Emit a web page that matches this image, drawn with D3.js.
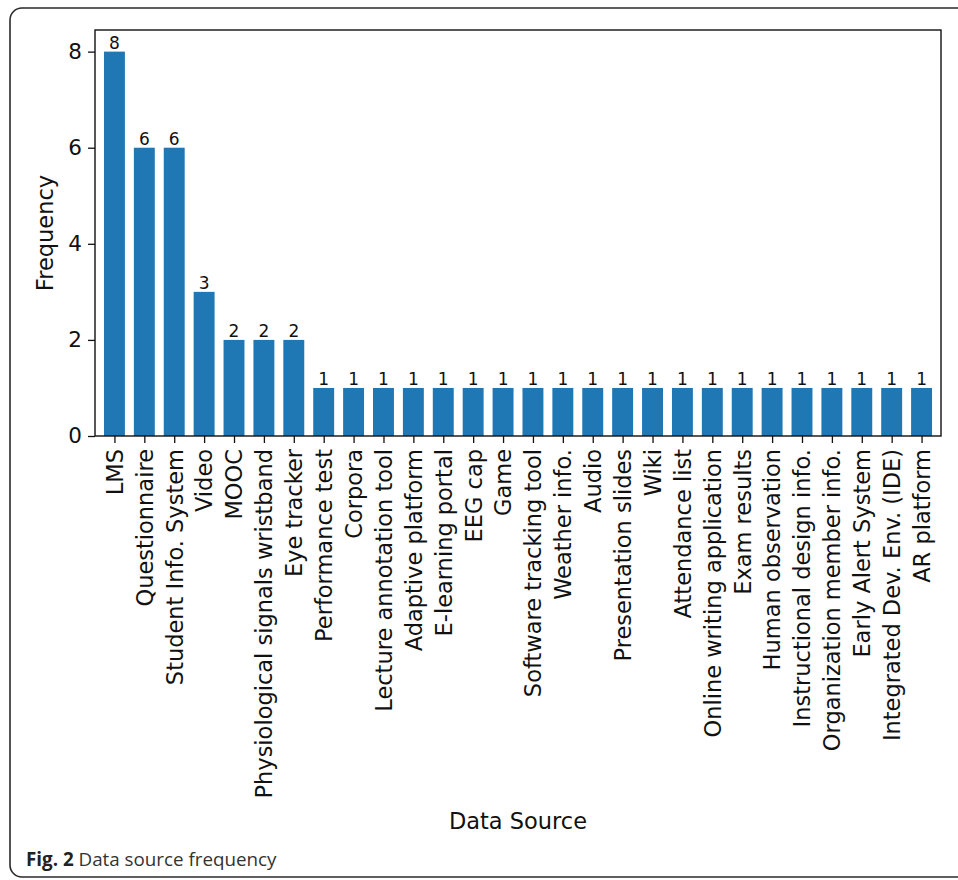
<!DOCTYPE html>
<html>
<head>
<meta charset="utf-8">
<script src="https://cdn.jsdelivr.net/npm/d3@7"></script>
<style>
  html, body { margin: 0; padding: 0; background: #fff; }
  svg { display: block; }
</style>
</head>
<body>
<svg id="chart" width="958" height="880"></svg>
<script>
const categories = [
  "LMS", "Questionnaire", "Student Info. System", "Video", "MOOC",
  "Physiological signals wristband", "Eye tracker", "Performance test", "Corpora",
  "Lecture annotation tool", "Adaptive platform", "E-learning portal", "EEG cap", "Game",
  "Software tracking tool", "Weather info.", "Audio", "Presentation slides", "Wiki",
  "Attendance list", "Online writing application", "Exam results", "Human observation",
  "Instructional design info.", "Organization member info.", "Early Alert System",
  "Integrated Dev. Env. (IDE)", "AR platform"
];
const values = [8, 6, 6, 3, 2, 2, 2, 1, 1, 1, 1, 1, 1, 1, 1, 1, 1, 1, 1, 1, 1, 1, 1, 1, 1, 1, 1, 1];
const yTicks = [0, 2, 4, 6, 8];

(function () {
const svg = d3.select("#chart");
const font = "'DejaVu Sans', sans-serif";

// outer figure frame (rounded, right side running off the page)
svg.append("rect")
  .attr("x", 10).attr("y", 8)
  .attr("width", 980).attr("height", 869)
  .attr("rx", 12).attr("ry", 12)
  .attr("fill", "none").attr("stroke", "#2a2a2a").attr("stroke-width", 1.6);

const pL = 95, pR = 941, pT = 30, pB = 436;
const barW = 0.7;

const x = d3.scaleLinear().domain([-0.65, categories.length - 1 + 0.65]).range([pL, pR]);
const y = d3.scaleLinear().domain([0, 8.45]).range([pB, pT]);

const g = svg.append("g");

// bars
g.selectAll("rect.bar").data(values).join("rect")
  .attr("class", "bar")
  .attr("x", (d, i) => x(i - barW / 2))
  .attr("width", (d, i) => x(i + barW / 2) - x(i - barW / 2))
  .attr("y", d => y(d))
  .attr("height", d => y(0) - y(d))
  .attr("fill", "#1f77b4");

// value labels
g.selectAll("text.val").data(values).join("text")
  .attr("class", "val")
  .attr("x", (d, i) => x(i))
  .attr("y", d => y(d) - 3)
  .attr("text-anchor", "middle")
  .attr("font-family", font)
  .attr("font-size", 17)
  .attr("fill", "#111")
  .text(d => d);

// y axis
const yAxis = d3.axisLeft(y).tickValues(yTicks).tickFormat(d3.format("d")).tickSize(7).tickPadding(6);
const ya = svg.append("g").attr("transform", `translate(${pL},0)`).call(yAxis);
ya.select(".domain").remove();
ya.selectAll("line").attr("stroke", "#111").attr("stroke-width", 1.3);
ya.selectAll("text").attr("font-family", font).attr("font-size", 21.5).attr("fill", "#111");

// x axis
const xAxis = d3.axisBottom(x).tickValues(d3.range(categories.length))
  .tickFormat(i => categories[i]).tickSize(7).tickPadding(5);
const xa = svg.append("g").attr("transform", `translate(0,${pB})`).call(xAxis);
xa.select(".domain").remove();
xa.selectAll("line").attr("stroke", "#111").attr("stroke-width", 1.3);
xa.selectAll("text")
  .attr("font-family", font).attr("font-size", 22.5).attr("fill", "#111")
  .attr("text-anchor", "end")
  .attr("y", 0).attr("dy", "0.35em")
  .attr("transform", "translate(0,13) rotate(-90)")
  .attr("x", 0);

// plot frame (spines)
svg.append("rect")
  .attr("x", pL).attr("y", pT)
  .attr("width", pR - pL).attr("height", pB - pT)
  .attr("fill", "none").attr("stroke", "#111").attr("stroke-width", 1.4);

// axis titles
svg.append("text")
  .attr("transform", `translate(53,${(pT + pB) / 2}) rotate(-90)`)
  .attr("text-anchor", "middle")
  .attr("font-family", font).attr("font-size", 22.5).attr("fill", "#111")
  .text("Frequency");

svg.append("text")
  .attr("x", (pL + pR) / 2).attr("y", 829)
  .attr("text-anchor", "middle")
  .attr("font-family", font).attr("font-size", 22.5).attr("fill", "#111")
  .text("Data Source");

// caption
const cap = svg.append("text")
  .attr("x", 26).attr("y", 866)
  .attr("font-family", "'Open Sans', sans-serif").attr("font-size", 18.8).attr("fill", "#333");
cap.append("tspan").attr("font-weight", "bold").attr("fill", "#222").text("Fig. 2");
cap.append("tspan").text(" Data source frequency");
})();
</script>
</body>
</html>
